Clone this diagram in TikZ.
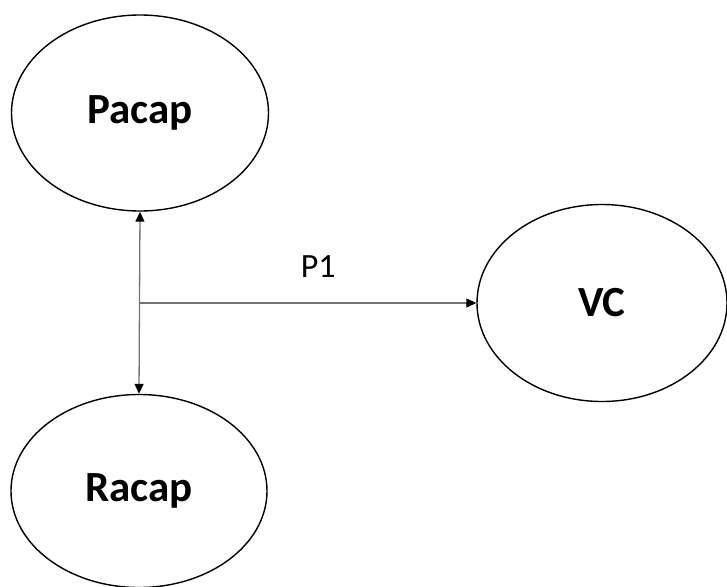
\documentclass[tikz,border=0pt]{standalone}
\usepackage{fontspec}
\setmainfont{Carlito}
\usetikzlibrary{shapes.geometric,arrows.meta}

\tikzset{
  blob/.style={draw, ellipse, line width=1.4pt, inner sep=0pt,
    font=\fontsize{43}{48}\selectfont\bfseries},
  tip/.style={Triangle[length=10pt,width=9pt,fill=black,color=black]},
  link/.style={draw=black!55, line width=1.3pt, -{Triangle[length=10pt,width=9pt,fill=black,color=black]}}
}

\begin{document}
\begin{tikzpicture}[x=1pt,y=1pt]
  \useasboundingbox (0,0) rectangle (727,-586);

  \node[blob, minimum width=257pt, minimum height=196pt] (Pacap) at (140,-113) {Pacap};
  \node[blob, minimum width=256pt, minimum height=193pt] (Racap) at (139,-491) {Racap};
  \node[blob, minimum width=250pt, minimum height=197pt] (VC) at (602,-303) {VC};

  \coordinate (split) at (Pacap.south |- VC.west);

  \draw[link, {Triangle[length=10pt,width=9pt,fill=black,color=black]}-{Triangle[length=10pt,width=9pt,fill=black,color=black]}] (Pacap.south) -- (Racap.north);
  \draw[link] (split) -- node[above=22pt, xshift=10pt, font=\fontsize{34}{40}\selectfont] (p1) {P1} (VC.west);
\end{tikzpicture}
\end{document}
